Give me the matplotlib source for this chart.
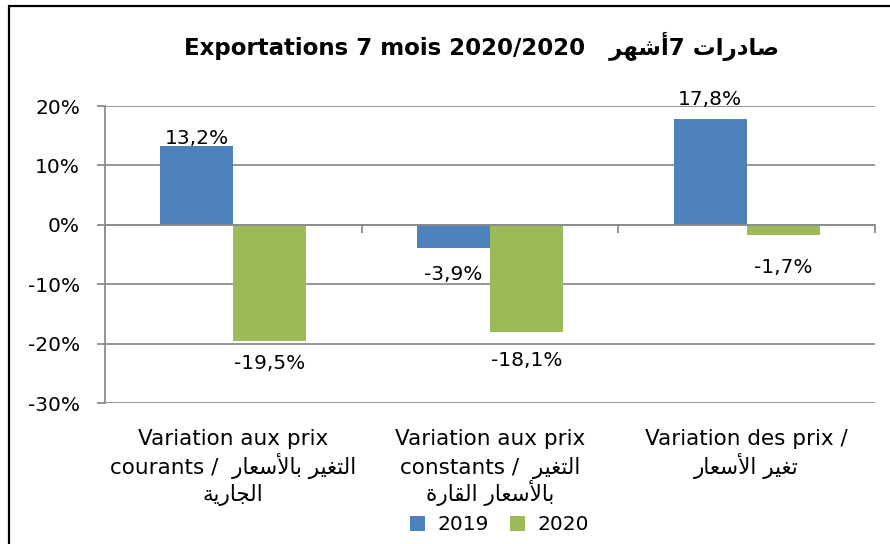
import matplotlib
matplotlib.use("Agg")
import matplotlib.pyplot as plt
import matplotlib.transforms as mtransforms
from matplotlib.patches import Patch, Rectangle
from matplotlib.ticker import FuncFormatter
import numpy as np

# ---------------- Arabic shaping helper (presentation forms + visual order) -------------
FORMS = {
    'ا': ('\uFE8D', '\uFE8E', None, None),
    'أ': ('\uFE83', '\uFE84', None, None),
    'ب': ('\uFE8F', '\uFE90', '\uFE91', '\uFE92'),
    'ة': ('\uFE93', '\uFE94', None, None),
    'ت': ('\uFE95', '\uFE96', '\uFE97', '\uFE98'),
    'ج': ('\uFE9D', '\uFE9E', '\uFE9F', '\uFEA0'),
    'د': ('\uFEA9', '\uFEAA', None, None),
    'ر': ('\uFEAD', '\uFEAE', None, None),
    'س': ('\uFEB1', '\uFEB2', '\uFEB3', '\uFEB4'),
    'ش': ('\uFEB5', '\uFEB6', '\uFEB7', '\uFEB8'),
    'ص': ('\uFEB9', '\uFEBA', '\uFEBB', '\uFEBC'),
    'ع': ('\uFEC9', '\uFECA', '\uFECB', '\uFECC'),
    'غ': ('\uFECD', '\uFECE', '\uFECF', '\uFED0'),
    'ق': ('\uFED5', '\uFED6', '\uFED7', '\uFED8'),
    'ل': ('\uFEDD', '\uFEDE', '\uFEDF', '\uFEE0'),
    'ه': ('\uFEE9', '\uFEEA', '\uFEEB', '\uFEEC'),
    'ي': ('\uFEF1', '\uFEF2', '\uFEF3', '\uFEF4'),
}
LAM_ALEF = {'أ': ('\uFEF7', '\uFEF8'), 'ا': ('\uFEFB', '\uFEFC')}


def shape(text):
    units = []
    i = 0
    while i < len(text):
        c = text[i]
        if c == 'ل' and i + 1 < len(text) and text[i + 1] in LAM_ALEF:
            units.append(('LA', text[i + 1]))
            i += 2
        else:
            units.append(('C', c))
            i += 1

    def info(u):
        if u[0] == 'LA':
            return (True, False)
        f = FORMS.get(u[1])
        if f is None:
            return (False, False)
        return (True, f[2] is not None)

    out = []
    for k, u in enumerate(units):
        is_ar, dual = info(u)
        prev_joins = is_ar and k > 0 and info(units[k - 1])[1]
        next_ok = dual and k + 1 < len(units) and info(units[k + 1])[0]
        if u[0] == 'LA':
            iso, fin = LAM_ALEF[u[1]]
            out.append(fin if prev_joins else iso)
        elif not is_ar:
            out.append(u[1])
        else:
            iso, fin, ini, med = FORMS[u[1]]
            if prev_joins and next_ok:
                g = med
            elif prev_joins:
                g = fin
            elif next_ok:
                g = ini
            else:
                g = iso
            out.append(g)
    return ''.join(reversed(out))


# ---------------- Data ----------------
category_lines = [
    ["Variation aux prix", "courants /  " + shape("التغير بالأسعار"), shape("الجارية")],
    ["Variation aux prix", "constants /  " + shape("التغير"), shape("بالأسعار القارة")],
    ["Variation des prix /", shape("تغير الأسعار")],
]
series_names = ["2019", "2020"]
values_2019 = [13.2, -3.9, 17.8]
values_2020 = [-19.5, -18.1, -1.7]
yticks = [-30, -20, -10, 0, 10, 20]

title = "Exportations 7 mois 2020/2020   " + shape("أشهر") + "7 " + shape("صادرات")

# label offsets (points) from bar end
offs_2019 = [1.5, 12, 10]
offs_2020 = [9.5, 13.5, 16.5]

colors = ["#4F81BD", "#9BBB59"]
grid_color = "#8c8c8c"

plt.rcParams['font.family'] = ['DejaVu Sans']

W, H = 890, 544
fig = plt.figure(figsize=(W / 100, H / 100), dpi=100)
ax = fig.add_axes([105 / W, 1 - 403 / H, (875 - 105) / W, (403 - 106) / H])

x = np.arange(len(category_lines))
w = 0.285
ax.bar(x - w / 2, values_2019, w, color=colors[0], zorder=3)
ax.bar(x + w / 2, values_2020, w, color=colors[1], zorder=3)

ax.set_xlim(-0.5, len(category_lines) - 0.5)
ax.set_ylim(min(yticks), max(yticks))
ax.set_yticks(yticks)
ax.yaxis.set_major_formatter(FuncFormatter(lambda v, p: f"{v:.0f}%"))
ax.yaxis.grid(True, color=grid_color, lw=1.3, zorder=0)
ax.set_axisbelow(True)

for s in ["top", "right"]:
    ax.spines[s].set_visible(False)
ax.spines["left"].set_color(grid_color)
ax.spines["left"].set_linewidth(1.3)
ax.spines["bottom"].set_position(("data", 0))
ax.spines["bottom"].set_color(grid_color)
ax.spines["bottom"].set_linewidth(1.3)
ax.spines["bottom"].set_zorder(4)

ax.tick_params(axis="y", length=6, width=1.3, color=grid_color, labelsize=14.5, pad=12)
ax.set_xticks(np.arange(len(category_lines) + 1) - 0.5)
ax.set_xticklabels([])
ax.tick_params(axis="x", length=6, width=1.3, color=grid_color, direction="out")


def fmt(v):
    return f"{v:.1f}".replace(".", ",") + "%"


for xs, vals, offs in [(x - w / 2, values_2019, offs_2019), (x + w / 2, values_2020, offs_2020)]:
    for xi, v, o in zip(xs, vals, offs):
        if v >= 0:
            ax.annotate(fmt(v), xy=(xi, v), xytext=(0, o), textcoords="offset points",
                        ha="center", va="baseline", fontsize=14.5, zorder=5)
        else:
            ax.annotate(fmt(v), xy=(xi, v), xytext=(0, -o), textcoords="offset points",
                        ha="center", va="top", fontsize=14.5, zorder=5)

# category labels, one text per line
trans = mtransforms.blended_transform_factory(ax.transData, fig.transFigure)
baselines = [445, 474, 501]
for xi, lines in zip(x, category_lines):
    for line, by in zip(lines, baselines):
        ax.text(xi, 1 - by / H, line, transform=trans, ha="center", va="baseline",
                fontsize=15.5)

# title
fig.text(482 / W, 1 - 55 / H, title, ha="center", va="baseline",
         fontsize=16.5, fontweight="bold")

# legend
handles = [Patch(facecolor=c, edgecolor="none") for c in colors]
fig.legend(handles, series_names, loc="center", bbox_to_anchor=(499.5 / W, 1 - 525 / H),
           ncol=2, frameon=False, fontsize=14.5, handlelength=0.75, handleheight=0.75,
           handletextpad=0.6, columnspacing=1.05, borderpad=0)

# outer frame
fig.patches.append(Rectangle((9 / W, -0.1), 1.2, 1.1 - 6 / H, transform=fig.transFigure,
                             fill=False, edgecolor="black", lw=1.6))

fig.savefig("out.png", dpi=100)
